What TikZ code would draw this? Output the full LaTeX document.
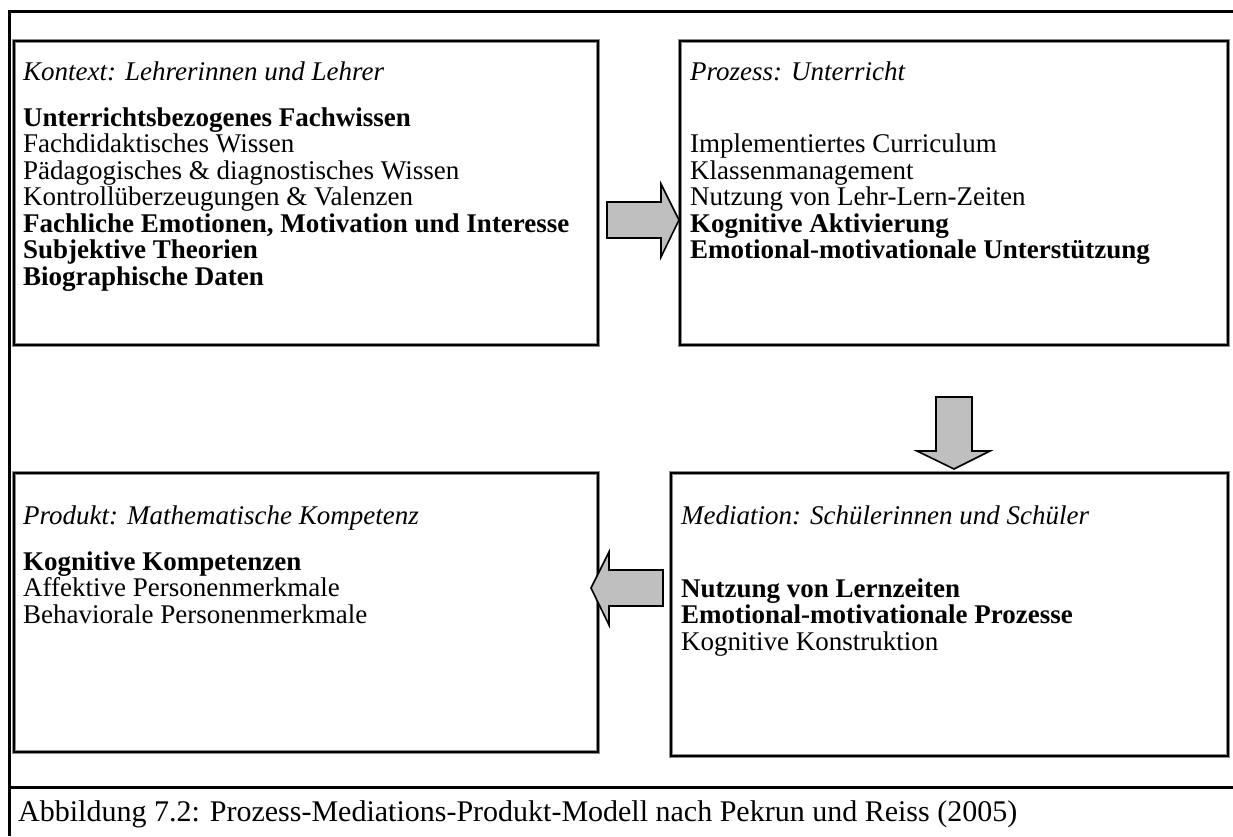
\documentclass[tikz,border=0pt]{standalone}
\usepackage{fontspec}
\setmainfont{Liberation Serif}
\begin{document}
\begin{tikzpicture}[x=1pt,y=-1pt,
  frame/.style={line width=3pt,black},
  panel/.style={draw=black,line width=1.6pt,fill=none,
    preaction={draw=black!45,line width=3.2pt}},
  blockarrow/.style={draw=black,line width=1.6pt,fill=black!25,line join=miter},
  head/.style={anchor=base west,inner sep=0pt,font=\fontsize{27}{30}\selectfont\itshape},
  txt/.style={anchor=base west,inner sep=0pt,font=\fontsize{27}{30}\selectfont},
  btxt/.style={anchor=base west,inner sep=0pt,font=\fontsize{27}{30}\selectfont\bfseries},
  captiontext/.style={anchor=base west,inner sep=0pt,font=\fontsize{30}{34}\selectfont}]
\useasboundingbox (0,0) rectangle (1233,836);

% outer frame and caption rule
\draw[frame] (1233,11) -- (9,11) -- (9,836);
\draw[frame] (9,787) -- (1233,787);

% the four panels
\draw[panel] (14,41) rectangle (598,345);
\draw[panel] (680,41) rectangle (1228,345);
\draw[panel] (14,473) rectangle (598,752);
\draw[panel] (671,473) rectangle (1228,756);

% Kontext
\node[head] (k0) at (23,80) {Kontext: Lehrerinnen und Lehrer};
\node[btxt] (k1) at (23,126) {Unterrichtsbezogenes Fachwissen};
\node[txt]  (k2) at (23,152.5) {Fachdidaktisches Wissen};
\node[txt]  (k3) at (23,179) {Pädagogisches \& diagnostisches Wissen};
\node[txt]  (k4) at (23,205.5) {Kontrollüberzeugungen \& Valenzen};
\node[btxt] (k5) at (23,232) {Fachliche Emotionen, Motivation und Interesse};
\node[btxt] (k6) at (23,258.5) {Subjektive Theorien};
\node[btxt] (k7) at (23,285) {Biographische Daten};

% Prozess
\node[head] (p0) at (690,80) {Prozess: Unterricht};
\node[txt]  (p1) at (690,152.5) {Implementiertes Curriculum};
\node[txt]  (p2) at (690,179) {Klassenmanagement};
\node[txt]  (p3) at (690,205.5) {Nutzung von Lehr-Lern-Zeiten};
\node[btxt] (p4) at (690,232) {Kognitive Aktivierung};
\node[btxt] (p5) at (690,258.5) {Emotional-motivationale Unterstützung};

% Produkt
\node[head] (r0) at (23,524) {Produkt: Mathematische Kompetenz};
\node[btxt] (r1) at (23,570) {Kognitive Kompetenzen};
\node[txt]  (r2) at (23,596.5) {Affektive Personenmerkmale};
\node[txt]  (r3) at (23,623) {Behaviorale Personenmerkmale};

% Mediation
\node[head] (m0) at (681,524) {Mediation: Schülerinnen und Schüler};
\node[btxt] (m1) at (681,597) {Nutzung von Lernzeiten};
\node[btxt] (m2) at (681,623.5) {Emotional-motivationale Prozesse};
\node[txt]  (m3) at (681,650) {Kognitive Konstruktion};

% block arrows
\draw[blockarrow] (607,202) -- (661,202) -- (661,184) -- (679,220) -- (661,257)
  -- (661,238) -- (607,238) -- cycle;
\draw[blockarrow] (936,397) -- (972,397) -- (972,451) -- (990,451) -- (954,469)
  -- (917,451) -- (936,451) -- cycle;
\draw[blockarrow] (663,570) -- (609,570) -- (609,552) -- (591,588) -- (609,625)
  -- (609,606) -- (663,606) -- cycle;

% caption
\node[captiontext] (caption) at (18,821) {Abbildung 7.2: Prozess-Mediations-Produkt-Modell nach Pekrun und Reiss (2005)};
\end{tikzpicture}
\end{document}
